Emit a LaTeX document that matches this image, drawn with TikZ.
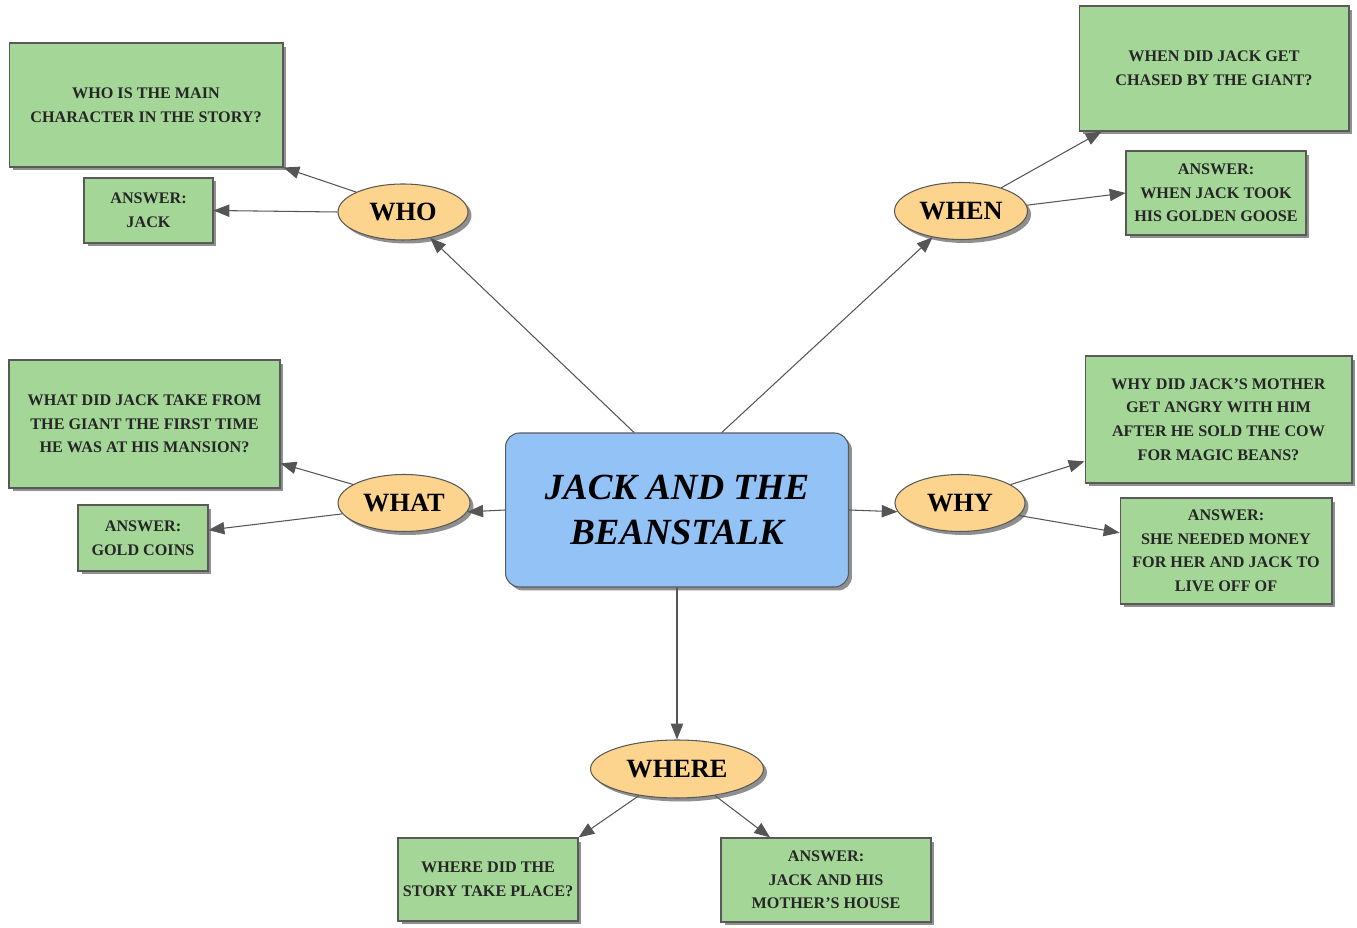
\documentclass[tikz,border=0pt]{standalone}
\usepackage{fontspec}
\setmainfont{Liberation Serif}
\usetikzlibrary{arrows.meta,shapes.geometric,shadows}
\definecolor{qgreen}{RGB}{164,214,152}
\definecolor{wbeige}{RGB}{252,212,142}
\definecolor{tblue}{RGB}{146,194,246}
\definecolor{edgegray}{RGB}{85,85,85}
\begin{document}
\begin{tikzpicture}[x=0.02cm,y=-0.02cm,
qbox/.style={rectangle, draw=black!65, fill=qgreen, line width=0.6pt, inner sep=0pt, align=center, text=black!85, font=\bfseries\fontsize{9.2}{13.4}\selectfont, drop shadow={shadow xshift=0.07cm, shadow yshift=-0.07cm, fill=black!55, opacity=0.8}},
wnode/.style={ellipse, draw=black!65, fill=wbeige, line width=0.6pt, inner sep=0pt, font=\bfseries\fontsize{15}{18}\selectfont, drop shadow={shadow xshift=0.07cm, shadow yshift=-0.07cm, fill=black!55, opacity=0.8}},
titlenode/.style={rectangle, rounded corners=0.28cm, draw=black!65, fill=tblue, line width=0.6pt, inner sep=0pt, align=center, font=\bfseries\itshape\fontsize{21}{26}\selectfont, drop shadow={shadow xshift=0.07cm, shadow yshift=-0.07cm, fill=black!55, opacity=0.8}},
link/.style={draw=edgegray, line width=0.6pt, -{Triangle[length=9pt,width=7pt]}},
]
\useasboundingbox (0,0) rectangle (1357,928);
%Nodes
\node[titlenode, minimum width=6.86cm, minimum height=3.08cm] (title) at (677,510) {JACK AND THE\\BEANSTALK};
\node[wnode, minimum width=2.60cm, minimum height=1.12cm] (who)   at (403,212) {WHO};
\node[wnode, minimum width=2.66cm, minimum height=1.14cm] (when)  at (961,211) {WHEN};
\node[wnode, minimum width=2.64cm, minimum height=1.14cm] (what)  at (404,503) {WHAT};
\node[wnode, minimum width=2.60cm, minimum height=1.14cm] (why)   at (960,503) {WHY};
\node[wnode, minimum width=3.46cm, minimum height=1.16cm] (where) at (677,769) {WHERE};
\node[qbox, minimum width=5.48cm, minimum height=2.48cm] (qwho)   at (146,105)    {WHO IS THE MAIN\\CHARACTER IN THE STORY?};
\node[qbox, minimum width=2.58cm, minimum height=1.30cm] (awho)   at (148.5,210.5) {ANSWER:\\JACK};
\node[qbox, minimum width=5.40cm, minimum height=2.50cm] (qwhen)  at (1214,68.5)  {WHEN DID JACK GET\\CHASED BY THE GIANT?};
\node[qbox, minimum width=3.60cm, minimum height=1.68cm] (awhen)  at (1216,193)   {ANSWER:\\WHEN JACK TOOK\\HIS GOLDEN GOOSE};
\node[qbox, minimum width=5.42cm, minimum height=2.56cm] (qwhat)  at (144.5,424)  {WHAT DID JACK TAKE FROM\\THE GIANT THE FIRST TIME\\HE WAS AT HIS MANSION?};
\node[qbox, minimum width=2.60cm, minimum height=1.32cm] (awhat)  at (143,538)    {ANSWER:\\GOLD COINS};
\node[qbox, minimum width=5.34cm, minimum height=2.54cm] (qwhy)   at (1218.5,419.5) {WHY DID JACK'S MOTHER\\GET ANGRY WITH HIM\\AFTER HE SOLD THE COW\\FOR MAGIC BEANS?};
\node[qbox, minimum width=4.24cm, minimum height=2.12cm] (awhy)   at (1226,551)   {ANSWER:\\SHE NEEDED MONEY\\FOR HER AND JACK TO\\LIVE OFF OF};
\node[qbox, minimum width=3.60cm, minimum height=1.66cm] (qwhere) at (488,879.5)  {WHERE DID THE\\STORY TAKE PLACE?};
\node[qbox, minimum width=4.20cm, minimum height=1.68cm] (awhere) at (826,880)    {ANSWER:\\JACK AND HIS\\MOTHER'S HOUSE};

%Lines
\draw[link] (title.119) -- (who);
\draw[link] (title.60) -- (when);
\draw[link] (title.west) -- (what.-8);
\draw[link] (title.east) -- (why.188);
\draw[link] (title.south) -- (where);
\draw[link] (who.157) -- (qwho.south east);
\draw[link] (who.west) -- (awho.east);
\draw[link] (when.30) -- (qwhen);
\draw[link] (when.5) -- (awhen.west);
\draw[link] (what.160) -- (qwhat);
\draw[link] (what.190) -- (awhat);
\draw[link] (why.20) -- (qwhy);
\draw[link] (why.-12) -- (awhy);
\draw[link] (where.-145) -- (qwhere.north east);
\draw[link] (where.-35) -- (awhere);
\end{tikzpicture}
\end{document}
